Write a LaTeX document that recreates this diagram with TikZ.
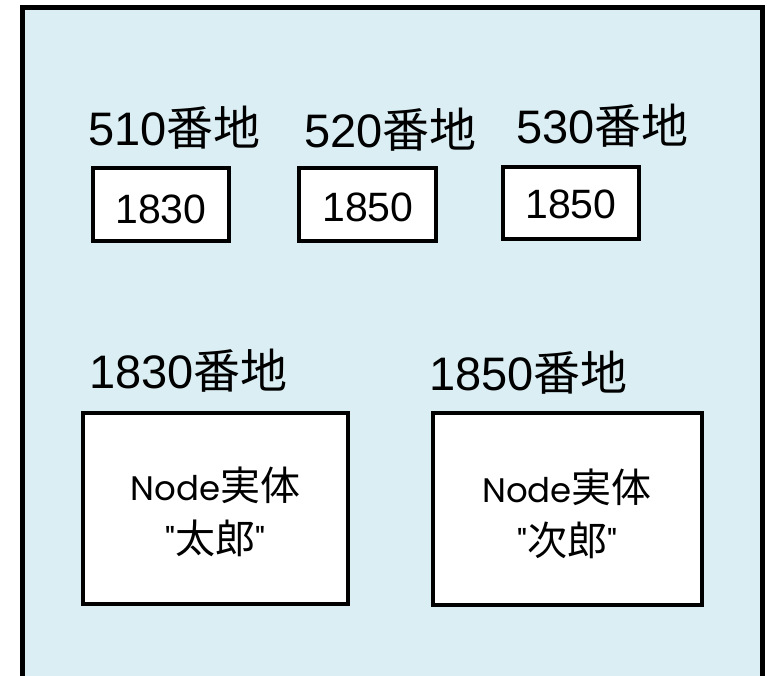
\documentclass[tikz,border=0pt]{standalone}
\usepackage{fontspec}
\setmainfont{Liberation Sans}
\newfontfamily\cjk{Noto Sans CJK JP}
\newfontfamily\geo{Poppins}
\definecolor{bgblue}{HTML}{DAEEF3}
\newcommand\entcjk[1]{{\cjk\fontsize{40}{53}\selectfont #1}}
\begin{document}
\begin{tikzpicture}[x=1pt,y=-1pt,
  lab/.style={font=\fontsize{47}{50}\selectfont, inner sep=0pt, anchor=base west},
  cell/.style={draw=black, line width=4pt, fill=white, inner sep=0pt},
  celltext/.style={font=\fontsize{41}{46}\selectfont, inner sep=0pt, anchor=base},
  ent/.style={draw=black, line width=4pt, fill=white, inner sep=0pt},
  enttext/.style={font=\geo\fontsize{34}{53}\selectfont, align=center, inner sep=0pt}]
\useasboundingbox (0,0) rectangle (767,675);
\clip (0,0) rectangle (767,675);
\draw[line width=5pt, fill=bgblue] (22,7.5) rectangle (762,700);

% top cells
\node[lab] (l510) at (88,145) {510{\cjk 番地}};
\node[lab] (l520) at (304,147) {520{\cjk 番地}};
\node[lab] (l530) at (516,143) {530{\cjk 番地}};

\node[cell, minimum width=136pt, minimum height=73pt] (c510) at (161,204.5) {};
\node[cell, minimum width=137pt, minimum height=73pt] (c520) at (367.5,204.5) {};
\node[cell, minimum width=136pt, minimum height=72pt] (c530) at (571,203) {};
\node[celltext] (t510) at (161,223) {1830};
\node[celltext] (t520) at (368,221) {1850};
\node[celltext] (t530) at (571,218) {1850};

% bottom entities
\node[lab] (l1830) at (89,388) {1830{\cjk 番地}};
\node[lab] (l1850) at (429,390) {1850{\cjk 番地}};

\node[ent, minimum width=265pt, minimum height=191pt] (e1) at (215.5,508.5) {};
\node[ent, minimum width=269pt, minimum height=192pt] (e2) at (567.5,509) {};
\node[enttext] (e1t) at (215.5,512) {Node\entcjk{実体}\\"\entcjk{太郎}"};
\node[enttext] (e2t) at (567,514) {Node\entcjk{実体}\\"\entcjk{次郎}"};
\end{tikzpicture}
\end{document}
